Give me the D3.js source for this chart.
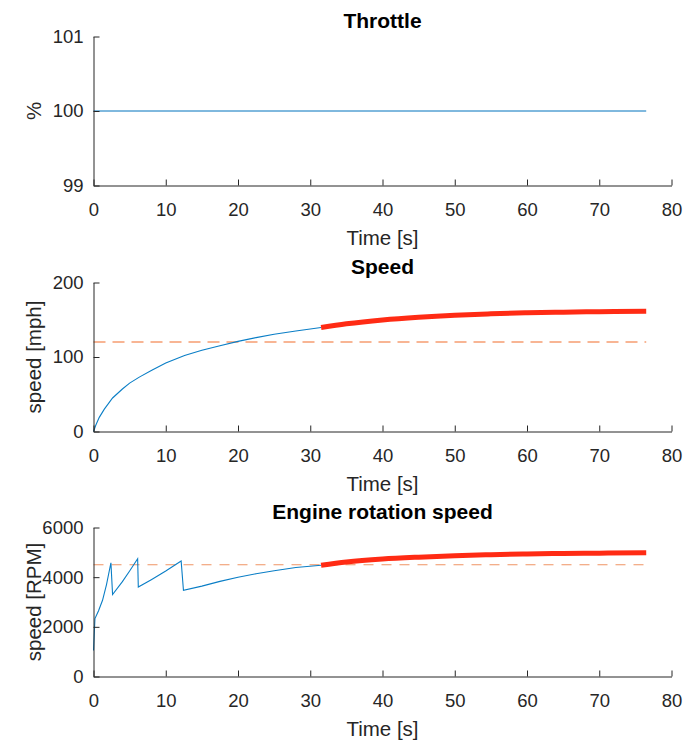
<!DOCTYPE html>
<html>
<head>
<meta charset="utf-8">
<script src="https://cdn.jsdelivr.net/npm/d3@7"></script>
<style>
  html, body { margin: 0; padding: 0; background: #fff; }
  svg { display: block; font-family: "Liberation Sans", Arial, Helvetica, sans-serif; }
</style>
</head>
<body>
<svg id="chart" width="699" height="740"></svg>
<script>
// ---------------- data ----------------
const xTicks = [0, 10, 20, 30, 40, 50, 60, 70, 80];
const throttleTicks = [99, 100, 101];
const speedTicks = [0, 100, 200];
const rpmTicks = [0, 2000, 4000, 6000];

const throttleTime = [0, 76.5];
const throttleValue = [100, 100];

const speedTime = [0, 0.3, 0.8, 1.5, 2.64, 4, 5, 6.34, 8, 10, 12.6, 15, 17.5, 20, 22.5, 25, 28, 31.5];
const speedValue = [0, 8, 19, 30, 45, 57, 65, 73, 82, 92, 102, 109, 115, 121, 126, 130.5, 135, 139.5];

const speedRedTime = [31.5, 35, 40, 45, 50, 55, 60, 65, 70, 76.5];
const speedRedValue = [139.5, 144.5, 149.8, 153.5, 156.2, 158, 159.3, 160.2, 160.8, 161.3];

const speedLimit = 120;

const rpmTime = [0, 0.2, 0.7, 1.25, 1.8, 2.41, 2.64, 4, 5, 6.11, 6.2, 8, 10, 12.13, 12.45, 15, 17.5, 20, 22.5, 25, 28, 31.5];
const rpmValue = [1050, 2330, 2650, 3070, 3700, 4580, 3300, 3820, 4250, 4740, 3600, 3900, 4250, 4650, 3470, 3640, 3830, 4000, 4140, 4260, 4390, 4480];

const rpmRedTime = [31.5, 35, 40, 45, 50, 55, 60, 65, 70, 76.5];
const rpmRedValue = [4480, 4610, 4730, 4805, 4862, 4903, 4934, 4955, 4968, 4980];

const rpmLimit = 4500;

const titles = ["Throttle", "Speed", "Engine rotation speed"];
const yLabels = ["%", "speed [mph]", "speed [RPM]"];
const xLabel = "Time [s]";

// ---------------- drawing ----------------
const svg = d3.select("#chart");
const left = 93.5, right = 671.5;
const panels = [
  { top: 36.5, bottom: 185.5, domain: [99, 101], ticks: throttleTicks },
  { top: 282.5, bottom: 431.5, domain: [0, 200], ticks: speedTicks },
  { top: 527.5, bottom: 676.5, domain: [0, 6000], ticks: rpmTicks }
];

const x = d3.scaleLinear().domain([0, 80]).range([left, right]);
const axisColor = "#262626";

function zip(a, b) { return a.map((d, i) => [d, b[i]]); }

panels.forEach((p, i) => {
  const y = d3.scaleLinear().domain(p.domain).range([p.bottom, p.top]);
  const g = svg.append("g");

  const line = d3.line().x(d => x(d[0])).y(d => y(d[1]));
  const smooth = d3.line().x(d => x(d[0])).y(d => y(d[1])).curve(d3.curveMonotoneX);

  if (i === 0) {
    g.append("path").datum(zip(throttleTime, throttleValue))
      .attr("d", line).attr("fill", "none").attr("stroke", "#0072BD").attr("stroke-width", 1);
  } else if (i === 1) {
    g.append("path").datum([[0, speedLimit], [76.5, speedLimit]])
      .attr("d", line).attr("fill", "none").attr("stroke", "#f8b594").attr("stroke-width", 2)
      .attr("stroke-dasharray", "12,7");
    g.append("path").datum(zip(speedTime, speedValue))
      .attr("d", line).attr("fill", "none").attr("stroke", "#0a7ec6").attr("stroke-width", 1.1);
    g.append("path").datum(zip(speedRedTime, speedRedValue))
      .attr("d", smooth).attr("fill", "none").attr("stroke", "#ff2b14").attr("stroke-width", 5);
  } else {
    g.append("path").datum([[0, rpmLimit], [76.5, rpmLimit]])
      .attr("d", line).attr("fill", "none").attr("stroke", "#ef9464").attr("stroke-width", 1.2)
      .attr("stroke-dasharray", "10,8");
    g.append("path").datum(zip(rpmTime, rpmValue))
      .attr("d", line).attr("fill", "none").attr("stroke", "#0a7ec6").attr("stroke-width", 1.1);
    g.append("path").datum(zip(rpmRedTime, rpmRedValue))
      .attr("d", smooth).attr("fill", "none").attr("stroke", "#ff2b14").attr("stroke-width", 5);
  }

  const xAxis = d3.axisBottom(x).tickValues(xTicks).tickFormat(d3.format("d"))
    .tickSizeInner(-6).tickSizeOuter(0).tickPadding(17);
  const gx = svg.append("g").attr("transform", `translate(0,${p.bottom})`).call(xAxis);

  const yAxis = d3.axisLeft(y).tickValues(p.ticks).tickFormat(d3.format("d"))
    .tickSizeInner(-6).tickSizeOuter(0).tickPadding(10);
  const gy = svg.append("g").attr("transform", `translate(${left},0)`).call(yAxis);

  [gx, gy].forEach(ax => {
    ax.select(".domain").attr("stroke", axisColor).attr("stroke-width", 1);
    ax.selectAll(".tick line").attr("stroke", axisColor).attr("stroke-width", 1);
    ax.selectAll(".tick text").attr("fill", axisColor).style("font-size", "18.5px")
      .style("font-family", '"Liberation Sans", Arial, Helvetica, sans-serif');
  });

  svg.append("text").attr("x", (left + right) / 2).attr("y", p.top - 9)
    .attr("text-anchor", "middle").attr("font-weight", "bold").attr("font-size", 21)
    .attr("fill", "#000").text(titles[i]);

  svg.append("text").attr("x", (left + right) / 2).attr("y", p.bottom + 59.5)
    .attr("text-anchor", "middle").attr("font-size", 20.5)
    .attr("fill", axisColor).text(xLabel);

  svg.append("text")
    .attr("transform", `translate(41,${(p.top + p.bottom) / 2}) rotate(-90)`)
    .attr("text-anchor", "middle").attr("font-size", 20.5)
    .attr("fill", axisColor).text(yLabels[i]);
});
</script>
</body>
</html>
